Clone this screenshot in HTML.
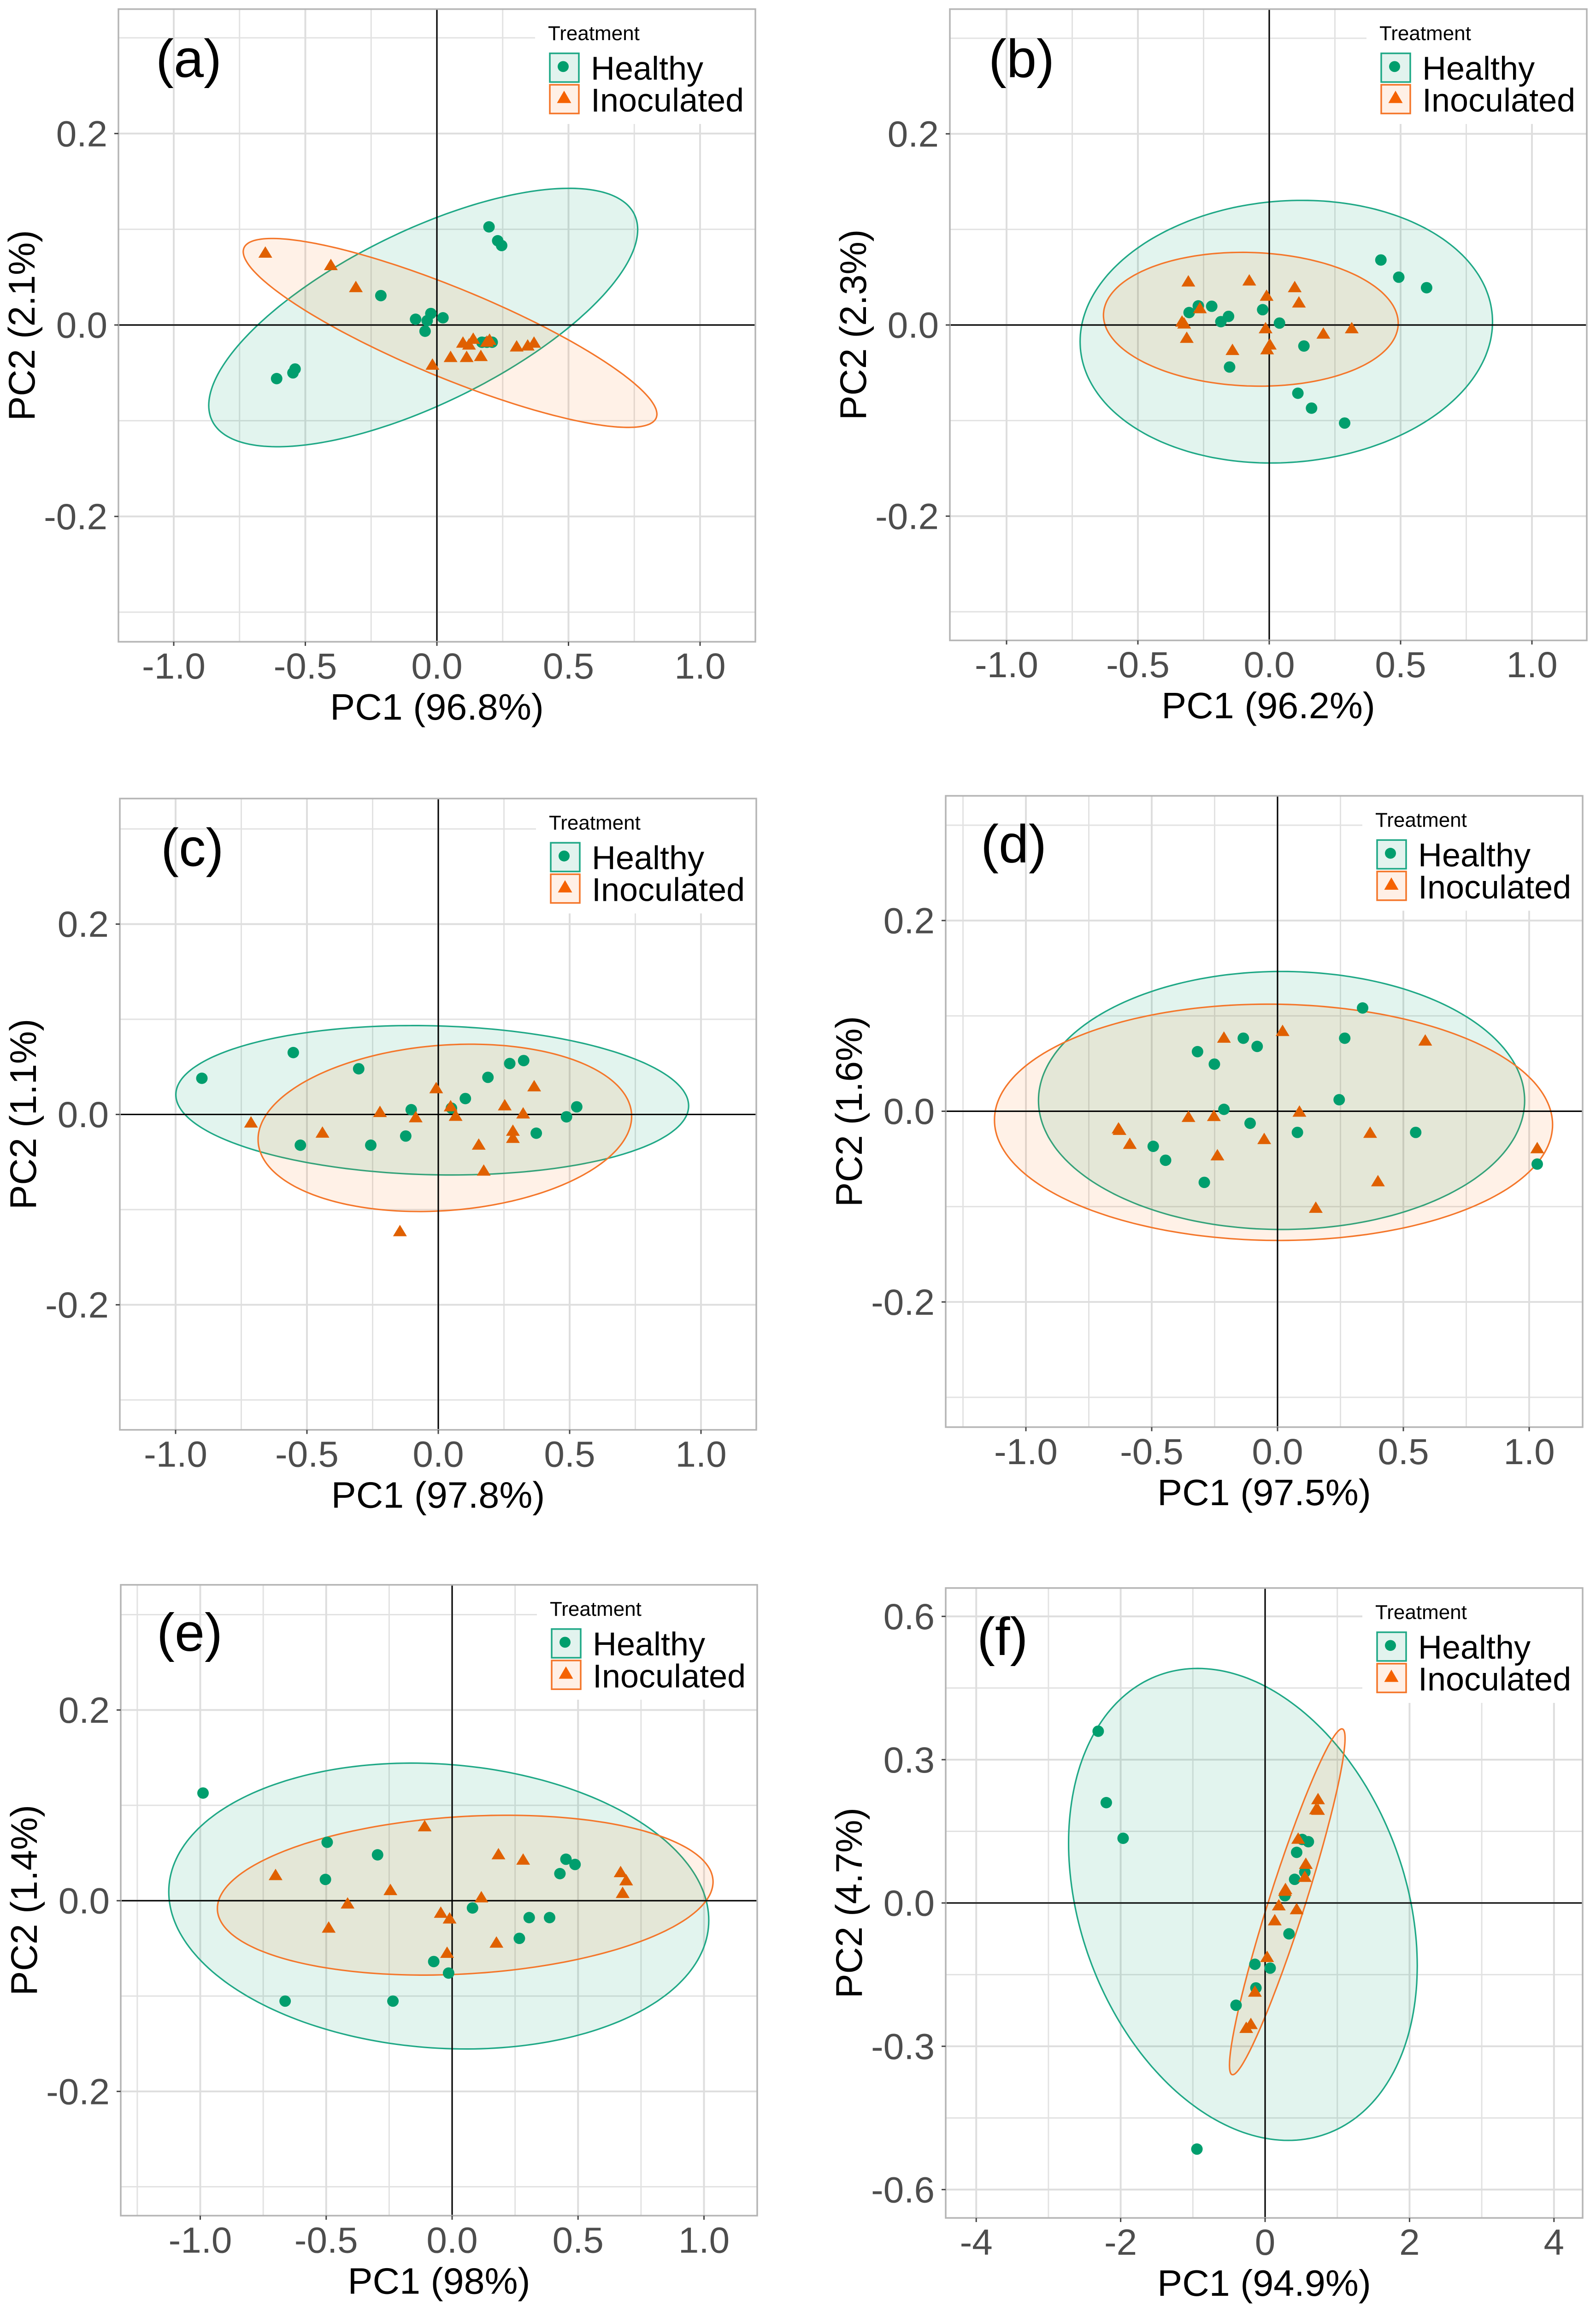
<!DOCTYPE html>
<html lang="en">
<head>
<meta charset="utf-8">
<title>PCA score plots, panels a to f</title>
<style>
  html, body { margin: 0; padding: 0; width: 100%; height: 100%; overflow: hidden; background: #ffffff; }
  #figure { display: block; width: 100vw; height: 100vh; font-family: "Liberation Sans", Arial, sans-serif; }
</style>
</head>
<body>
<svg id="figure" xmlns="http://www.w3.org/2000/svg" viewBox="0 0 3463 5057" preserveAspectRatio="none"></svg>
<script>
// ---------- Axis ticks ----------
const unitXTicks = [-1, -0.5, 0, 0.5, 1];
const unitXTickLabels = ["-1.0", "-0.5", "0.0", "0.5", "1.0"];
const unitXMinorTicks = [-1.25, -0.75, -0.25, 0.25, 0.75, 1.25];
const unitYTicks = [-0.2, 0, 0.2];
const unitYTickLabels = ["-0.2", "0.0", "0.2"];
const unitYMinorTicks = [-0.3, -0.1, 0.1, 0.3];
const wideXTicks = [-4, -2, 0, 2, 4];
const wideXTickLabels = ["-4", "-2", "0", "2", "4"];
const wideXMinorTicks = [-3, -1, 1, 3];
const wideYTicks = [-0.6, -0.3, 0, 0.3, 0.6];
const wideYTickLabels = ["-0.6", "-0.3", "0.0", "0.3", "0.6"];
const wideYMinorTicks = [-0.45, -0.15, 0.15, 0.45];

// ---------- Legend ----------
const legendTitle = "Treatment";
const treatments = ["Healthy", "Inoculated"];

// ---------- Ellipse order: centre PC1, centre PC2, half-range PC1, half-range PC2, correlation ----------
// Panel a
const aHealthyPc1 = [0.198, 0.231, 0.246, -0.213, -0.081, -0.037, -0.023, 0.023, -0.045, -0.609, -0.547, -0.539, 0.171, 0.19, 0.21];
const aHealthyPc2 = [0.1025, 0.088, 0.083, 0.0307, 0.006, 0.0045, 0.012, 0.0075, -0.0065, -0.056, -0.05, -0.046, -0.018, -0.018, -0.018];
const aInoculatedPc1 = [-0.652, -0.403, -0.308, -0.017, 0.052, 0.113, 0.167, 0.099, 0.122, 0.138, 0.2, 0.303, 0.345, 0.369, 0.19];
const aInoculatedPc2 = [0.076, 0.063, 0.04, -0.041, -0.033, -0.033, -0.032, -0.018, -0.02, -0.014, -0.015, -0.022, -0.021, -0.018, -0.017];
const aHealthyEllipse = [-0.052, 0.0078, 0.815, 0.135, 0.68];
const aInoculatedEllipse = [0.05, -0.0083, 0.786, 0.0987, -0.86];

// Panel b
const bHealthyPc1 = [0.425, 0.493, 0.599, -0.219, -0.305, -0.27, -0.184, -0.155, -0.025, 0.039, 0.132, -0.151, 0.109, 0.161, 0.287];
const bHealthyPc2 = [0.068, 0.05, 0.039, 0.0196, 0.013, 0.02, 0.0035, 0.009, 0.016, 0.002, -0.022, -0.044, -0.0714, -0.087, -0.1026];
const bInoculatedPc1 = [-0.308, -0.076, 0.097, -0.01, 0.113, -0.264, -0.332, -0.324, -0.314, -0.014, 0.206, 0.314, -0.14, 0.002, -0.008];
const bInoculatedPc2 = [0.046, 0.047, 0.04, 0.031, 0.024, 0.018, 0.004, 0.002, -0.013, -0.003, -0.0086, -0.003, -0.0257, -0.02, -0.025];
const bHealthyEllipse = [0.065, -0.007, 0.785, 0.1374, 0.075];
const bInoculatedEllipse = [-0.07, 0.006, 0.561, 0.07, -0.06];

// Panel c
const cHealthyPc1 = [-0.9, -0.552, -0.303, 0.272, 0.325, 0.189, 0.103, -0.103, 0.05, 0.527, 0.488, 0.373, -0.124, -0.257, -0.525];
const cHealthyPc2 = [0.038, 0.065, 0.048, 0.0535, 0.0566, 0.039, 0.0167, 0.005, 0.0066, 0.008, -0.0025, -0.0197, -0.0227, -0.0323, -0.0323];
const cInoculatedPc1 = [-0.713, -0.441, -0.222, -0.086, -0.008, 0.047, 0.066, 0.253, 0.365, 0.323, 0.284, 0.284, 0.154, 0.173, -0.146];
const cInoculatedPc2 = [-0.008, -0.0187, 0.003, -0.0025, 0.028, 0.009, -0.001, 0.01, 0.03, 0.0015, -0.0167, -0.0242, -0.0313, -0.0586, -0.1222];
const cHealthyEllipse = [-0.023, 0.0149, 0.976, 0.0785, -0.075];
const cInoculatedEllipse = [0.025, -0.0141, 0.711, 0.0879, 0.138];

// Panel d
const dHealthyPc1 = [-0.318, -0.251, -0.136, -0.081, 0.338, 0.267, 0.245, -0.213, -0.109, 0.079, 0.549, -0.494, -0.445, -0.291, 1.032];
const dHealthyPc2 = [0.0625, 0.0494, 0.0766, 0.068, 0.1083, 0.0766, 0.0121, 0.002, -0.0126, -0.0222, -0.0222, -0.0368, -0.0514, -0.0746, -0.0554];
const dInoculatedPc1 = [-0.213, 0.02, 0.587, 0.087, -0.354, -0.253, -0.628, -0.632, -0.587, -0.053, 0.368, -0.239, 0.399, 0.152, 1.032];
const dInoculatedPc2 = [0.0776, 0.0846, 0.0746, 0, -0.0055, -0.0045, -0.0191, -0.0176, -0.0338, -0.0287, -0.0222, -0.0458, -0.073, -0.1008, -0.0383];
const dHealthyEllipse = [0.016, 0.0113, 0.966, 0.1353, 0];
const dInoculatedEllipse = [-0.016, -0.0116, 1.109, 0.1239, -0.02];

// Panel e
const eHealthyPc1 = [-0.989, -0.496, -0.296, -0.503, 0.452, 0.488, 0.428, 0.081, 0.306, 0.387, 0.267, -0.073, -0.014, -0.235, -0.663];
const eHealthyPc2 = [0.1129, 0.0613, 0.0481, 0.0223, 0.0435, 0.038, 0.0284, -0.0076, -0.0177, -0.0177, -0.0395, -0.0638, -0.0759, -0.1053, -0.1053];
const eInoculatedPc1 = [-0.701, -0.109, 0.184, 0.282, 0.669, 0.691, 0.677, -0.245, -0.415, -0.49, 0.116, -0.045, -0.01, 0.176, -0.02];
const eInoculatedPc2 = [0.0273, 0.0785, 0.0491, 0.0435, 0.0304, 0.0218, 0.0086, 0.0116, -0.0025, -0.0278, 0.004, -0.0122, -0.0182, -0.0435, -0.0542];
const eHealthyEllipse = [-0.053, -0.0056, 1.072, 0.1499, -0.1];
const eInoculatedEllipse = [0.052, 0.0058, 0.984, 0.0838, 0.167];

// Panel f
const fHealthyPc1 = [-2.311, -2.199, -1.966, -0.944, 0.599, 0.514, 0.437, 0.55, 0.409, 0.275, 0.331, -0.141, 0.07, -0.127, -0.402];
const fHealthyPc2 = [0.3596, 0.2101, 0.1354, -0.5152, 0.1283, 0.133, 0.106, 0.0646, 0.0495, 0.0152, -0.0646, -0.1283, -0.1364, -0.1778, -0.2141];
const fInoculatedPc1 = [0.733, 0.733, 0.458, 0.564, 0.55, 0.275, 0.19, 0.437, 0.134, 0.028, -0.141, -0.197, -0.261, 0.705, 0.282];
const fInoculatedPc2 = [0.2182, 0.196, 0.1354, 0.0828, 0.0556, 0.0263, -0.004, -0.0121, -0.0354, -0.1121, -0.1848, -0.2525, -0.2606, 0.197, 0.03];
const fHealthyEllipse = [-0.307, -0.003, 2.414, 0.494, -0.26];
const fInoculatedEllipse = [0.307, 0.0025, 0.8, 0.362, 0.945];

// ---------- Colours ----------
const GREEN = "#009e6d", ORANGE = "#e06000", GREEN_LINE = "#1fa886", ORANGE_LINE = "#f4762a";
const SVG_NS = "http://www.w3.org/2000/svg";
const root = document.getElementById("figure");

function make(tag, parent, props, text) {
  const node = document.createElementNS(SVG_NS, tag);
  for (const key in props) node.setAttribute(key, props[key]);
  if (text !== undefined) node.textContent = text;
  parent.appendChild(node);
  return node;
}

function drawPanel(p) {
  const xScale = v => p.xZero + v * p.xUnit;
  const yScale = v => p.yZero - v * p.yUnit;

  const group = make("g", root, {});
  
  

  const bg = make("rect", group, { x: p.left, y: p.top, width: p.right - p.left, height: p.bottom - p.top, fill: "#ffffff" });
  
  

  // grid
  const grid = make("g", group, {});
  
  
  p.xMinor.forEach(v => {
    const px = xScale(v);
    if (px <= p.left || px >= p.right) return;
    make("line", grid, { x1: px, x2: px, y1: p.top, y2: p.bottom, stroke: "#e2e2e2", "stroke-width": 3 });
  });
  p.yMinor.forEach(v => {
    const py = yScale(v);
    if (py <= p.top || py >= p.bottom) return;
    make("line", grid, { x1: p.left, x2: p.right, y1: py, y2: py, stroke: "#e2e2e2", "stroke-width": 3 });
  });
  p.xTicks.forEach(v => {
    const px = xScale(v);
    make("line", grid, { x1: px, x2: px, y1: p.top, y2: p.bottom, stroke: "#dedede", "stroke-width": 4 });
  });
  p.yTicks.forEach(v => {
    const py = yScale(v);
    make("line", grid, { x1: p.left, x2: p.right, y1: py, y2: py, stroke: "#dedede", "stroke-width": 4 });
  });

  // legend backdrop hides the grid beneath it
  const legendBg = make("rect", group, { x: p.right - 478, y: p.top, width: 478, height: 252, fill: "#ffffff" });
  
  

  // ellipses
  [[p.healthyEllipse, GREEN, GREEN_LINE, 0.115, treatments[0]], [p.inoculatedEllipse, "#ff6600", ORANGE_LINE, 0.095, treatments[1]]].forEach(spec => {
    const e = spec[0];
    const pts = [];
    for (let i = 0; i < 240; i++) {
      const t = i / 240 * Math.PI * 2;
      const vx = e[0] + e[2] * Math.cos(t);
      const vy = e[1] + e[3] * (e[4] * Math.cos(t) + Math.sqrt(1 - e[4] * e[4]) * Math.sin(t));
      pts.push(xScale(vx).toFixed(1) + "," + yScale(vy).toFixed(1));
    }
    const poly = make("polygon", group, { points: pts.join(" "), fill: spec[1], "fill-opacity": spec[3], stroke: spec[2], "stroke-width": 3.2 });
    
    
  });

  // zero lines
  const zeroV = make("line", group, { x1: xScale(0), x2: xScale(0), y1: p.top, y2: p.bottom, stroke: "#000000", "stroke-width": 3 });
  
  
  const zeroH = make("line", group, { x1: p.left, x2: p.right, y1: yScale(0), y2: yScale(0), stroke: "#000000", "stroke-width": 3 });
  
  

  // points
  p.healthyPc1.forEach((v, i) => {
    const dot = make("circle", group, { cx: xScale(v), cy: yScale(p.healthyPc2[i]), r: 12.5, fill: GREEN });
    
    
  });
  p.inoculatedPc1.forEach((v, i) => {
    const cx = xScale(v), cy = yScale(p.inoculatedPc2[i]);
    const tri = make("polygon", group, { points: cx + "," + (cy - 13) + " " + (cx + 15) + "," + (cy + 12) + " " + (cx - 15) + "," + (cy + 12), fill: ORANGE });
    
    
  });

  // border
  const border = make("rect", group, { x: p.left, y: p.top, width: p.right - p.left, height: p.bottom - p.top, fill: "none", stroke: "#b5b5b5", "stroke-width": 3.5 });
  
  

  // ticks and tick labels
  p.xTicks.forEach((v, i) => {
    const px = xScale(v);
    const tick = make("line", group, { x1: px, x2: px, y1: p.bottom, y2: p.bottom + 9, stroke: "#444444", "stroke-width": 3 });
    
    
    const label = make("text", group, { x: px, y: p.bottom + 81, "font-size": 80, fill: "#4d4d4d", "text-anchor": "middle" }, p.xLabels[i]);
    
    
  });
  p.yTicks.forEach((v, i) => {
    const py = yScale(v);
    const tick = make("line", group, { x1: p.left - 9, x2: p.left, y1: py, y2: py, stroke: "#444444", "stroke-width": 3 });
    
    
    const label = make("text", group, { x: p.left - 24, y: py + 28, "font-size": 80, fill: "#4d4d4d", "text-anchor": "end" }, p.yLabels[i]);
    
    
  });

  // axis titles
  const xTitle = make("text", group, { x: (p.left + p.right) / 2, y: p.bottom + 171, "font-size": 81, fill: "#000000", "text-anchor": "middle" }, p.xTitle);
  
  
  const ty = (p.top + p.bottom) / 2, tx = p.left - 182;
  const yTitle = make("text", group, { x: tx, y: ty, transform: "rotate(-90 " + tx + " " + ty + ")", "font-size": 81, fill: "#000000", "text-anchor": "middle" }, p.yTitle);
  
  

  // panel tag
  const tag = make("text", group, { x: p.left + p.tagX, y: p.top + p.tagY, "font-size": 117, fill: "#000000" }, "(" + p.id + ")");
  
  

  // legend
  const legend = make("g", group, {});
  
  
  const lx = p.right - 446;
  const title = make("text", legend, { x: p.right - 450, y: p.top + 68, "font-size": 44, fill: "#000000" }, legendTitle);
  
  

  const keyA = make("rect", legend, { x: lx, y: p.top + 97, width: 63, height: 63, fill: "#e2f3ee", stroke: GREEN_LINE, "stroke-width": 3.5 });
  
  
  const keyDot = make("circle", legend, { cx: lx + 29, cy: p.top + 126, r: 12, fill: GREEN });
  
  
  const labelA = make("text", legend, { x: p.right - 357, y: p.top + 155, "font-size": 72, fill: "#000000" }, treatments[0]);
  
  

  const keyB = make("rect", legend, { x: lx, y: p.top + 166, width: 63, height: 63, fill: "#fff0e6", stroke: ORANGE_LINE, "stroke-width": 3.5 });
  
  
  const kcx = lx + 31, kcy = p.top + 193;
  const keyTri = make("polygon", legend, { points: kcx + "," + (kcy - 14) + " " + (kcx + 15.5) + "," + (kcy + 13) + " " + (kcx - 15.5) + "," + (kcy + 13), fill: "#f56200" });
  
  
  const labelB = make("text", legend, { x: p.right - 357, y: p.top + 225, "font-size": 72, fill: "#000000" }, treatments[1]);
  
  
}

const unitAxes = { xTicks: unitXTicks, xLabels: unitXTickLabels, xMinor: unitXMinorTicks, yTicks: unitYTicks, yLabels: unitYTickLabels, yMinor: unitYMinorTicks };
const wideAxes = { xTicks: wideXTicks, xLabels: wideXTickLabels, xMinor: wideXMinorTicks, yTicks: wideYTicks, yLabels: wideYTickLabels, yMinor: wideYMinorTicks };

drawPanel(Object.assign({}, unitAxes, {
  id: "a", left: 257, right: 1639, top: 20, bottom: 1408, xZero: 948, xUnit: 571, yZero: 713, yUnit: 2100,
  xTitle: "PC1 (96.8%)", yTitle: "PC2 (2.1%)", tagX: 81, tagY: 149,
  healthyPc1: aHealthyPc1, healthyPc2: aHealthyPc2, inoculatedPc1: aInoculatedPc1, inoculatedPc2: aInoculatedPc2,
  healthyEllipse: aHealthyEllipse, inoculatedEllipse: aInoculatedEllipse
}));
drawPanel(Object.assign({}, unitAxes, {
  id: "b", left: 2061, right: 3443, top: 20, bottom: 1405, xZero: 2754, xUnit: 570, yZero: 713, yUnit: 2097,
  xTitle: "PC1 (96.2%)", yTitle: "PC2 (2.3%)", tagX: 84, tagY: 149,
  healthyPc1: bHealthyPc1, healthyPc2: bHealthyPc2, inoculatedPc1: bInoculatedPc1, inoculatedPc2: bInoculatedPc2,
  healthyEllipse: bHealthyEllipse, inoculatedEllipse: bInoculatedEllipse
}));
drawPanel(Object.assign({}, unitAxes, {
  id: "c", left: 260, right: 1641, top: 1752, bottom: 3137, xZero: 951, xUnit: 570, yZero: 2445, yUnit: 2088,
  xTitle: "PC1 (97.8%)", yTitle: "PC2 (1.1%)", tagX: 89, tagY: 148,
  healthyPc1: cHealthyPc1, healthyPc2: cHealthyPc2, inoculatedPc1: cInoculatedPc1, inoculatedPc2: cInoculatedPc2,
  healthyEllipse: cHealthyEllipse, inoculatedEllipse: cInoculatedEllipse
}));
drawPanel(Object.assign({}, unitAxes, {
  id: "d", left: 2052, right: 3434, top: 1746, bottom: 3131, xZero: 2772, xUnit: 546, yZero: 2438, yUnit: 2092,
  xTitle: "PC1 (97.5%)", yTitle: "PC2 (1.6%)", tagX: 76, tagY: 146,
  healthyPc1: dHealthyPc1, healthyPc2: dHealthyPc2, inoculatedPc1: dInoculatedPc1, inoculatedPc2: dInoculatedPc2,
  healthyEllipse: dHealthyEllipse, inoculatedEllipse: dInoculatedEllipse
}));
drawPanel(Object.assign({}, unitAxes, {
  id: "e", left: 262, right: 1643, top: 3477, bottom: 4861, xZero: 981, xUnit: 546.5, yZero: 4170, yUnit: 2092,
  xTitle: "PC1 (98%)", yTitle: "PC2 (1.4%)", tagX: 78, tagY: 145,
  healthyPc1: eHealthyPc1, healthyPc2: eHealthyPc2, inoculatedPc1: eInoculatedPc1, inoculatedPc2: eInoculatedPc2,
  healthyEllipse: eHealthyEllipse, inoculatedEllipse: eInoculatedEllipse
}));
drawPanel(Object.assign({}, wideAxes, {
  id: "f", left: 2052, right: 3434, top: 3484, bottom: 4866, xZero: 2745, xUnit: 156.7, yZero: 4175, yUnit: 1048,
  xTitle: "PC1 (94.9%)", yTitle: "PC2 (4.7%)", tagX: 68, tagY: 147,
  healthyPc1: fHealthyPc1, healthyPc2: fHealthyPc2, inoculatedPc1: fInoculatedPc1, inoculatedPc2: fInoculatedPc2,
  healthyEllipse: fHealthyEllipse, inoculatedEllipse: fInoculatedEllipse
}));
</script>
</body>
</html>
